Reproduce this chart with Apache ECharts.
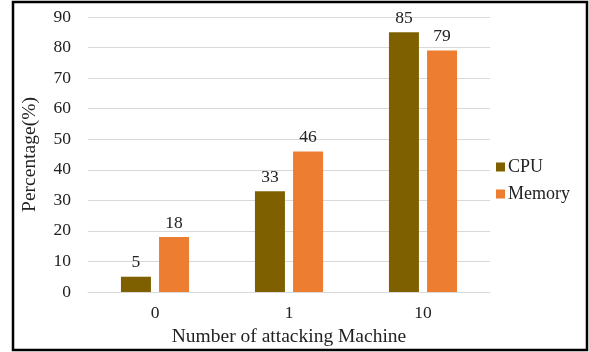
<!DOCTYPE html>
<html>
<head>
<meta charset="utf-8">
<script src="https://cdn.jsdelivr.net/npm/echarts@6/dist/echarts.min.js"></script>
<style>
  html, body { margin: 0; padding: 0; background: #fff; }
  #chart { width: 589px; height: 352px; }
</style>
</head>
<body>
<div id="chart"></div>
<script>
// Attack load vs resource usage
const categories = ['0', '1', '10'];
const cpuValues = [5, 33, 85];
const memoryValues = [18, 46, 79];
const yTicks = { min: 0, max: 90, interval: 10 };

const FONT = '"Liberation Serif", "Times New Roman", serif';

const chart = echarts.init(document.getElementById('chart'), null, { renderer: 'canvas' });

const labelStyle = {
  show: true,
  position: 'top',
  distance: 5,
  color: '#222',
  fontFamily: FONT,
  fontSize: 17.5
};

chart.setOption({
  animation: false,
  backgroundColor: '#fff',
  graphic: [{
    type: 'rect',
    shape: { x: 13, y: 2, width: 574, height: 348 },
    style: { fill: 'none', stroke: '#000', lineWidth: 2.5 },
    silent: true,
    z: 100
  }],
  grid: { left: 88, right: 99, top: 17, bottom: 60 },
  legend: {
    orient: 'vertical',
    left: 491,
    top: 153,
    itemWidth: 9,
    itemHeight: 9,
    itemGap: 9,
    icon: 'rect',
    textStyle: { fontFamily: FONT, fontSize: 18, color: '#222', padding: [0, 0, 0, -2] },
    data: ['CPU', 'Memory']
  },
  xAxis: {
    type: 'category',
    data: categories,
    name: 'Number of attacking Machine',
    nameLocation: 'middle',
    nameGap: 31,
    nameTextStyle: { fontFamily: FONT, fontSize: 19.5, color: '#222' },
    axisLine: { show: true, lineStyle: { color: '#d9d9d9' } },
    axisTick: { show: false },
    axisLabel: { fontFamily: FONT, fontSize: 17.5, color: '#222', margin: 12 }
  },
  yAxis: {
    type: 'value',
    min: yTicks.min,
    max: yTicks.max,
    interval: yTicks.interval,
    name: 'Percentage(%)',
    nameLocation: 'middle',
    nameGap: 48,
    nameRotate: 90,
    nameTextStyle: { fontFamily: FONT, fontSize: 19.5, color: '#222' },
    axisLine: { show: false },
    axisTick: { show: false },
    axisLabel: { fontFamily: FONT, fontSize: 17.5, color: '#222', margin: 17 },
    splitLine: { lineStyle: { color: '#d9d9d9', width: 1 } }
  },
  series: [
    {
      name: 'CPU',
      type: 'bar',
      data: cpuValues,
      barWidth: 30,
      barGap: '27%',
      itemStyle: { color: '#7f6000' },
      label: labelStyle
    },
    {
      name: 'Memory',
      type: 'bar',
      data: memoryValues,
      barWidth: 30,
      itemStyle: { color: '#ed7d31' },
      label: labelStyle
    }
  ]
});
</script>
</body>
</html>
